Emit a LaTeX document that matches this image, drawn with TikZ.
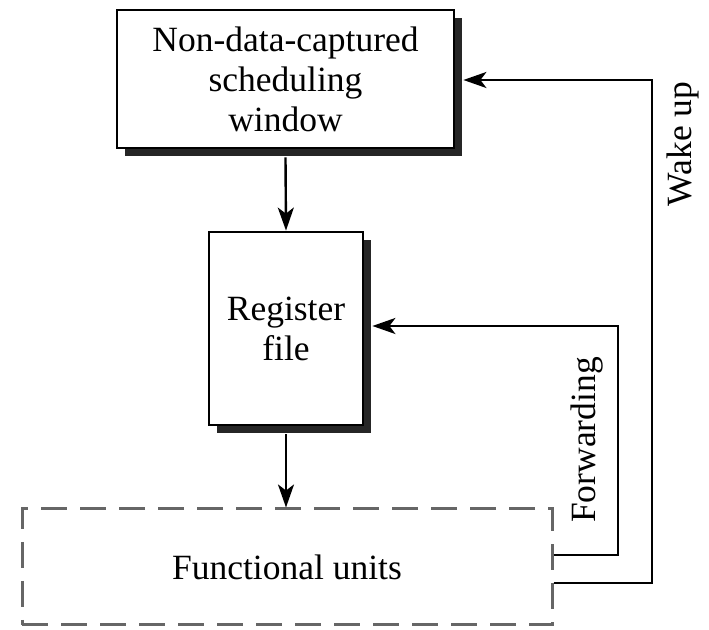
\documentclass[tikz,border=0pt]{standalone}
\usepackage{fontspec}
\setmainfont{Liberation Serif}
\usetikzlibrary{arrows.meta,shadows}
\begin{document}
\begin{tikzpicture}[x=0.5pt,y=-0.5pt,
  lbl/.style={font=\fontsize{17.75}{20}\selectfont, align=center},
  solidbox/.style={lbl, draw=black, line width=1.4pt, fill=white, inner sep=0pt,
    drop shadow={shadow xshift=4pt, shadow yshift=-4pt, fill=black!85, opacity=1}},
  dashbox/.style={lbl, draw=black!60, line width=1.5pt, inner sep=0pt,
    dash pattern=on 13pt off 6.5pt},
  link/.style={line width=1.2pt, draw=black},
  arr/.style={link, -{Stealth[length=11.5pt, width=8pt, inset=3pt]}}
]
\useasboundingbox (0,0) rectangle (709,630);

% blocks
\node[solidbox, minimum width=168.5pt, minimum height=69pt] (sched) at (285.5,79)
  {Non-data-captured\\scheduling\\window};
\node[solidbox, minimum width=77pt, minimum height=96.5pt] (reg) at (286,328.5)
  {Register\\file};
\node[dashbox, minimum width=265pt, minimum height=58pt] (fu) at (287,567)
  {Functional units};

% data path down the pipeline
\draw[arr] ([yshift=-4pt]sched.south) -- (reg.north);
\draw[arr] ([yshift=-4pt]reg.south) -- (reg.south |- fu.north);

% forwarding loop back to the register file
\coordinate (fwdcorner) at (618,326);
\draw[arr] ([yshift=6pt]fu.east) -| (fwdcorner) -- ([xshift=4pt]reg.east |- fwdcorner);
\node[lbl, rotate=90] (fwdlbl) at (587,440) {Forwarding};

% wake-up loop back to the scheduling window
\coordinate (wakecorner) at (652,80);
\draw[arr] ([yshift=-8pt]fu.east) -| (wakecorner) -- ([xshift=4pt]sched.east |- wakecorner);
\node[lbl, rotate=90] (wakelbl) at (683,144) {Wake up};
\end{tikzpicture}
\end{document}
